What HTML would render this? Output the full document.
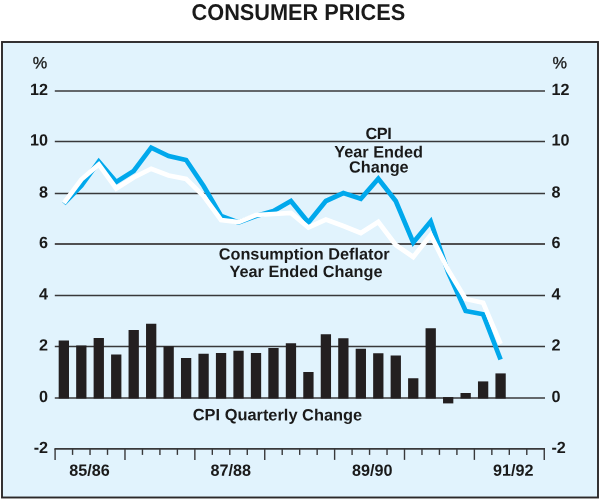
<!DOCTYPE html>
<html><head><meta charset="utf-8"><title>Consumer Prices</title>
<style>
html,body{margin:0;padding:0;background:#fff;}
body{width:600px;height:500px;overflow:hidden;}
svg{display:block;will-change:transform;}
text{font-family:"Liberation Sans",Arial,Helvetica,sans-serif;font-weight:bold;fill:#1a1a1a;}
</style></head><body>
<svg width="600" height="500" viewBox="0 0 600 500">
<rect x="0" y="0" width="600" height="500" fill="#ffffff"/>
<rect x="2" y="42" width="596" height="455.5" fill="#e1f3fd" stroke="#2b2829" stroke-width="1.9"/>
<text transform="rotate(0.04 191.6 19.9)" x="191.6" y="19.9" font-size="22.8" textLength="213.6" lengthAdjust="spacingAndGlyphs">CONSUMER PRICES</text>
<line x1="54.8" x2="545" y1="90.96" y2="90.96" stroke="#38383a" stroke-width="1.5"/>
<line x1="54.8" x2="545" y1="141.50" y2="141.50" stroke="#38383a" stroke-width="1.5"/>
<line x1="54.8" x2="545" y1="193.40" y2="193.40" stroke="#38383a" stroke-width="1.5"/>
<line x1="54.8" x2="545" y1="244.00" y2="244.00" stroke="#505052" stroke-width="1.9"/>
<line x1="54.8" x2="545" y1="295.55" y2="295.55" stroke="#38383a" stroke-width="1.5"/>
<line x1="54.8" x2="545" y1="346.40" y2="346.40" stroke="#38383a" stroke-width="1.5"/>
<line x1="54.8" x2="545" y1="397.96" y2="397.96" stroke="#38383a" stroke-width="1.5"/>
<line x1="54.4" x2="545" y1="448.90" y2="448.90" stroke="#38383a" stroke-width="1.8"/>
<line x1="55.10" x2="55.10" y1="448.90" y2="459.90" stroke="#38383a" stroke-width="1.4"/>
<line x1="72.57" x2="72.57" y1="448.90" y2="454.90" stroke="#38383a" stroke-width="1.4"/>
<line x1="90.04" x2="90.04" y1="448.90" y2="454.90" stroke="#38383a" stroke-width="1.4"/>
<line x1="107.51" x2="107.51" y1="448.90" y2="454.90" stroke="#38383a" stroke-width="1.4"/>
<line x1="124.98" x2="124.98" y1="448.90" y2="459.90" stroke="#38383a" stroke-width="1.4"/>
<line x1="142.45" x2="142.45" y1="448.90" y2="454.90" stroke="#38383a" stroke-width="1.4"/>
<line x1="159.92" x2="159.92" y1="448.90" y2="454.90" stroke="#38383a" stroke-width="1.4"/>
<line x1="177.39" x2="177.39" y1="448.90" y2="454.90" stroke="#38383a" stroke-width="1.4"/>
<line x1="194.86" x2="194.86" y1="448.90" y2="459.90" stroke="#38383a" stroke-width="1.4"/>
<line x1="212.33" x2="212.33" y1="448.90" y2="454.90" stroke="#38383a" stroke-width="1.4"/>
<line x1="229.80" x2="229.80" y1="448.90" y2="454.90" stroke="#38383a" stroke-width="1.4"/>
<line x1="247.27" x2="247.27" y1="448.90" y2="454.90" stroke="#38383a" stroke-width="1.4"/>
<line x1="264.74" x2="264.74" y1="448.90" y2="459.90" stroke="#38383a" stroke-width="1.4"/>
<line x1="282.21" x2="282.21" y1="448.90" y2="454.90" stroke="#38383a" stroke-width="1.4"/>
<line x1="299.68" x2="299.68" y1="448.90" y2="454.90" stroke="#38383a" stroke-width="1.4"/>
<line x1="317.15" x2="317.15" y1="448.90" y2="454.90" stroke="#38383a" stroke-width="1.4"/>
<line x1="334.62" x2="334.62" y1="448.90" y2="459.90" stroke="#38383a" stroke-width="1.4"/>
<line x1="352.09" x2="352.09" y1="448.90" y2="454.90" stroke="#38383a" stroke-width="1.4"/>
<line x1="369.56" x2="369.56" y1="448.90" y2="454.90" stroke="#38383a" stroke-width="1.4"/>
<line x1="387.03" x2="387.03" y1="448.90" y2="454.90" stroke="#38383a" stroke-width="1.4"/>
<line x1="404.50" x2="404.50" y1="448.90" y2="459.90" stroke="#38383a" stroke-width="1.4"/>
<line x1="421.97" x2="421.97" y1="448.90" y2="454.90" stroke="#38383a" stroke-width="1.4"/>
<line x1="439.44" x2="439.44" y1="448.90" y2="454.90" stroke="#38383a" stroke-width="1.4"/>
<line x1="456.91" x2="456.91" y1="448.90" y2="454.90" stroke="#38383a" stroke-width="1.4"/>
<line x1="474.38" x2="474.38" y1="448.90" y2="459.90" stroke="#38383a" stroke-width="1.4"/>
<line x1="491.85" x2="491.85" y1="448.90" y2="454.90" stroke="#38383a" stroke-width="1.4"/>
<line x1="509.32" x2="509.32" y1="448.90" y2="454.90" stroke="#38383a" stroke-width="1.4"/>
<line x1="526.79" x2="526.79" y1="448.90" y2="454.90" stroke="#38383a" stroke-width="1.4"/>
<line x1="544.26" x2="544.26" y1="448.90" y2="459.90" stroke="#38383a" stroke-width="1.4"/>
<rect x="58.69" y="340.50" width="10.3" height="58.00" fill="#231f20"/>
<rect x="76.16" y="345.50" width="10.3" height="53.00" fill="#231f20"/>
<rect x="93.62" y="338.00" width="10.3" height="60.50" fill="#231f20"/>
<rect x="111.09" y="354.50" width="10.3" height="44.00" fill="#231f20"/>
<rect x="128.56" y="330.00" width="10.3" height="68.50" fill="#231f20"/>
<rect x="146.03" y="323.75" width="10.3" height="74.75" fill="#231f20"/>
<rect x="163.50" y="346.25" width="10.3" height="52.25" fill="#231f20"/>
<rect x="180.97" y="358.00" width="10.3" height="40.50" fill="#231f20"/>
<rect x="198.44" y="353.75" width="10.3" height="44.75" fill="#231f20"/>
<rect x="215.91" y="353.00" width="10.3" height="45.50" fill="#231f20"/>
<rect x="233.38" y="350.75" width="10.3" height="47.75" fill="#231f20"/>
<rect x="250.85" y="353.00" width="10.3" height="45.50" fill="#231f20"/>
<rect x="268.33" y="348.00" width="10.3" height="50.50" fill="#231f20"/>
<rect x="285.80" y="343.25" width="10.3" height="55.25" fill="#231f20"/>
<rect x="303.27" y="372.00" width="10.3" height="26.50" fill="#231f20"/>
<rect x="320.74" y="334.25" width="10.3" height="64.25" fill="#231f20"/>
<rect x="338.21" y="338.25" width="10.3" height="60.25" fill="#231f20"/>
<rect x="355.68" y="348.75" width="10.3" height="49.75" fill="#231f20"/>
<rect x="373.15" y="353.25" width="10.3" height="45.25" fill="#231f20"/>
<rect x="390.62" y="355.50" width="10.3" height="43.00" fill="#231f20"/>
<rect x="408.09" y="378.25" width="10.3" height="20.25" fill="#231f20"/>
<rect x="425.56" y="328.25" width="10.3" height="70.25" fill="#231f20"/>
<rect x="443.03" y="397.10" width="10.3" height="6.30" fill="#231f20"/>
<rect x="460.50" y="393.00" width="10.3" height="5.50" fill="#231f20"/>
<rect x="477.97" y="381.40" width="10.3" height="17.10" fill="#231f20"/>
<rect x="495.44" y="373.40" width="10.3" height="25.10" fill="#231f20"/>
<polyline points="63.84,203.70 81.31,185.70 98.78,161.50 116.25,182.00 133.72,171.00 151.19,147.60 168.66,156.00 186.12,160.00 203.59,186.00 221.06,216.00 238.53,222.50 256.00,216.00 273.48,211.00 290.94,201.00 308.42,222.50 325.88,201.00 343.36,193.00 360.82,198.75 378.30,178.75 395.76,201.00 413.24,242.50 430.70,221.50 448.18,272.50 465.64,311.00 483.12,314.30 500.58,359.50" fill="none" stroke="#00a8ec" stroke-width="4.7" stroke-linejoin="miter" stroke-miterlimit="10"/>
<polyline points="63.84,203.20 81.31,179.50 98.78,164.40 116.25,188.50 133.72,177.50 151.19,168.75 168.66,175.50 186.12,179.00 203.59,196.00 221.06,220.00 238.53,222.20 256.00,215.00 273.48,214.00 290.94,213.00 308.42,227.50 325.88,219.50 343.36,226.00 360.82,233.00 378.30,222.00 395.76,245.00 413.24,257.00 430.70,235.00 448.18,270.00 465.64,299.00 483.12,302.75 500.58,344.00" fill="none" stroke="#ffffff" stroke-width="4.7" stroke-linejoin="miter" stroke-miterlimit="10"/>
<text transform="rotate(0.04 48.1 94.96)" x="48.1" y="94.96" font-size="16.2" text-anchor="end">12</text>
<text transform="rotate(0.04 551.4 94.96)" x="551.4" y="94.96" font-size="16.2" text-anchor="start">12</text>
<text transform="rotate(0.04 48.1 145.50)" x="48.1" y="145.50" font-size="16.2" text-anchor="end">10</text>
<text transform="rotate(0.04 551.4 145.50)" x="551.4" y="145.50" font-size="16.2" text-anchor="start">10</text>
<text transform="rotate(0.04 48.1 197.40)" x="48.1" y="197.40" font-size="16.2" text-anchor="end">8</text>
<text transform="rotate(0.04 551.4 197.40)" x="551.4" y="197.40" font-size="16.2" text-anchor="start">8</text>
<text transform="rotate(0.04 48.1 248.00)" x="48.1" y="248.00" font-size="16.2" text-anchor="end">6</text>
<text transform="rotate(0.04 551.4 248.00)" x="551.4" y="248.00" font-size="16.2" text-anchor="start">6</text>
<text transform="rotate(0.04 48.1 299.55)" x="48.1" y="299.55" font-size="16.2" text-anchor="end">4</text>
<text transform="rotate(0.04 551.4 299.55)" x="551.4" y="299.55" font-size="16.2" text-anchor="start">4</text>
<text transform="rotate(0.04 48.1 350.40)" x="48.1" y="350.40" font-size="16.2" text-anchor="end">2</text>
<text transform="rotate(0.04 551.4 350.40)" x="551.4" y="350.40" font-size="16.2" text-anchor="start">2</text>
<text transform="rotate(0.04 48.1 401.96)" x="48.1" y="401.96" font-size="16.2" text-anchor="end">0</text>
<text transform="rotate(0.04 551.4 401.96)" x="551.4" y="401.96" font-size="16.2" text-anchor="start">0</text>
<text transform="rotate(0.04 48.1 452.90)" x="48.1" y="452.90" font-size="16.2" text-anchor="end">-2</text>
<text transform="rotate(0.04 551.4 452.90)" x="551.4" y="452.90" font-size="16.2" text-anchor="start">-2</text>
<text transform="rotate(0.04 40.1 68.2)" x="40.1" y="68.2" font-size="16.3" text-anchor="middle" style="font-weight:normal" stroke="#1a1a1a" stroke-width="0.35">%</text>
<text transform="rotate(0.04 559.7 68.2)" x="559.7" y="68.2" font-size="16.3" text-anchor="middle" style="font-weight:normal" stroke="#1a1a1a" stroke-width="0.35">%</text>
<text transform="rotate(0.04 89.6 475.8)" x="89.6" y="475.8" font-size="16.2" text-anchor="middle">85/86</text>
<text transform="rotate(0.04 230.8 475.8)" x="230.8" y="475.8" font-size="16.2" text-anchor="middle">87/88</text>
<text transform="rotate(0.04 372.3 475.8)" x="372.3" y="475.8" font-size="16.2" text-anchor="middle">89/90</text>
<text transform="rotate(0.04 513.2 475.8)" x="513.2" y="475.8" font-size="16.2" text-anchor="middle">91/92</text>
<text transform="rotate(0.04 378.4 139.1)" x="378.4" y="139.1" font-size="16.3" text-anchor="middle" letter-spacing="-0.5">CPI</text>
<text transform="rotate(0.04 378.6 157.4)" x="378.6" y="157.4" font-size="16.3" text-anchor="middle">Year Ended</text>
<text transform="rotate(0.04 378.8 172.6)" x="378.8" y="172.6" font-size="16.3" text-anchor="middle">Change</text>
<text transform="rotate(0.04 304.2 259.5)" x="304.2" y="259.5" font-size="16.3" text-anchor="middle">Consumption Deflator</text>
<text transform="rotate(0.04 306 277)" x="306" y="277" font-size="16.3" text-anchor="middle">Year Ended Change</text>
<text transform="rotate(0.04 277.5 420.4)" x="277.5" y="420.4" font-size="16.4" text-anchor="middle">CPI Quarterly Change</text>
</svg>
</body></html>
